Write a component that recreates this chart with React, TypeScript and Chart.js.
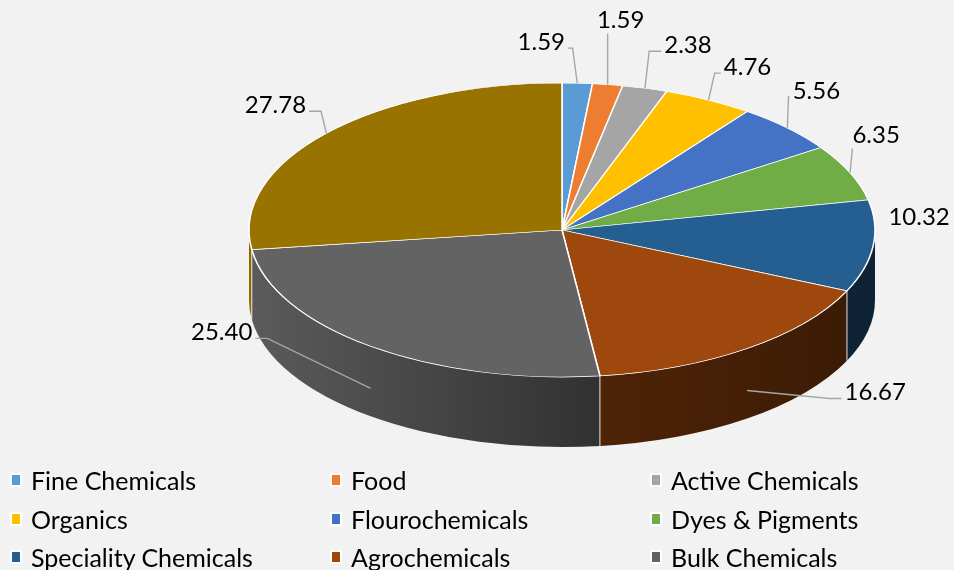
import React, { useEffect, useRef } from 'react';
import { Chart, registerables } from 'chart.js';

Chart.register(...registerables);

// ---- data ----
const categories = [
  'Fine Chemicals',
  'Food',
  'Active Chemicals',
  'Organics',
  'Flourochemicals',
  'Dyes & Pigments',
  'Speciality Chemicals',
  'Agrochemicals',
  'Bulk Chemicals',
  'Others',
];
const values = [1.59, 1.59, 2.38, 4.76, 5.56, 6.35, 10.32, 16.67, 25.4, 27.78];
const valueLabels = ['1.59', '1.59', '2.38', '4.76', '5.56', '6.35', '10.32', '16.67', '25.40', '27.78'];

// ---- styles ----
const sliceColors = [
  '#5B9BD5', '#ED7D31', '#A5A5A5', '#FFC000', '#4472C4',
  '#70AD47', '#255E91', '#9E480E', '#636363', '#997300',
];
// label offset from its anchor point on the slice edge (px)
const labelOffsets: [number, number][] = [
  [-36, -41], [13, -64], [43, -43], [39, -33], [29, -37],
  [26, -37], [46, -29], [128, 2], [-149, -56], [-51, -28],
];

const W = 954;
const H = 570;
const CX = 562;
const CY = 230;
const BASE_R = 200;
const RX = 313;
const RY = 147;
const DEPTH = 70;
const FONT = 'Lato, "Open Sans", "DejaVu Sans", sans-serif';

function shade(hex: string, f: number) {
  const n = parseInt(hex.slice(1), 16);
  const r = Math.round(((n >> 16) & 255) * f);
  const g = Math.round(((n >> 8) & 255) * f);
  const b = Math.round((n & 255) * f);
  return `rgb(${r},${g},${b})`;
}

const pie3d = {
  id: 'pie3d',
  beforeDatasetsDraw(chart: any) {
    const meta = chart.getDatasetMeta(0);
    const arcs = meta.data as any[];
    if (!arcs.length) return;
    const ctx: CanvasRenderingContext2D = chart.ctx;
    const cx = arcs[0].x;
    const cy = arcs[0].y;
    const r = arcs[0].outerRadius;
    // side walls (front half only)
    arcs.forEach((arc, i) => {
      const s = Math.max(arc.startAngle, 0);
      const e = Math.min(arc.endAngle, Math.PI);
      if (e <= s) return;
      const col = sliceColors[i];
      const g = ctx.createLinearGradient(cx - RX, 0, cx + RX, 0);
      g.addColorStop(0, shade(col, 0.92));
      g.addColorStop(0.55, shade(col, 0.5));
      g.addColorStop(1, shade(col, 0.36));
      ctx.beginPath();
      ctx.ellipse(cx, cy, RX, RY, 0, s, e, false);
      ctx.lineTo(cx + RX * Math.cos(e), cy + RY * Math.sin(e) + DEPTH);
      ctx.ellipse(cx, cy + DEPTH, RX, RY, 0, e, s, true);
      ctx.closePath();
      ctx.fillStyle = g;
      ctx.fill();
    });
    ctx.strokeStyle = 'rgba(255,255,255,0.85)';
    ctx.lineWidth = 1;
    arcs.forEach((arc) => {
      const a = arc.startAngle;
      if (a > 0 && a < Math.PI) {
        const x = cx + RX * Math.cos(a);
        const y = cy + RY * Math.sin(a);
        ctx.beginPath();
        ctx.moveTo(x, y);
        ctx.lineTo(x, y + DEPTH);
        ctx.stroke();
      }
    });
    ctx.save();
    ctx.translate(cx, cy);
    ctx.scale(RX / r, RY / r);
    ctx.translate(-cx, -cy);
  },
  afterDatasetsDraw(chart: any) {
    const ctx: CanvasRenderingContext2D = chart.ctx;
    ctx.restore();
    const arcs = chart.getDatasetMeta(0).data as any[];
    if (!arcs.length) return;
    const cx = arcs[0].x;
    const cy = arcs[0].y;
    ctx.save();
    ctx.font = `24px ${FONT}`;
    ctx.textAlign = 'center';
    ctx.textBaseline = 'middle';
    arcs.forEach((arc, i) => {
      const mid = (arc.startAngle + arc.endAngle) / 2;
      const c = Math.cos(mid);
      const s = Math.sin(mid);
      const ax = cx + RX * c;
      const ay = cy + RY * s + (s > 0.3 ? DEPTH * 0.6 : 0);
      const lx = ax + labelOffsets[i][0];
      const ly = ay + labelOffsets[i][1];
      const text = valueLabels[i];
      const w = ctx.measureText(text).width;
      const x1 = lx - w / 2;
      const x2 = lx + w / 2;
      const y1 = ly - 11;
      const y2 = ly + 11;
      const dx = ax < x1 ? x1 - ax : ax > x2 ? ax - x2 : 0;
      const dy = ay < y1 ? y1 - ay : ay > y2 ? ay - y2 : 0;
      const dist = Math.hypot(dx, dy);
      if (dist >= 24) {
        ctx.strokeStyle = '#a6a6a6';
        ctx.lineWidth = 1.4;
        ctx.beginPath();
        ctx.moveTo(ax, ay);
        if (ax < x1 - 4) {
          const tx = x1 - 3;
          const ty = ly + 6;
          let ex = tx - 12;
          if (ex < ax + 2) ex = (ax + tx) / 2;
          ctx.lineTo(ex, ty);
          ctx.lineTo(tx, ty);
        } else if (ax > x2 + 4) {
          const tx = x2 + 3;
          const ty = ly + 6;
          let ex = tx + 12;
          if (ex > ax - 2) ex = (ax + tx) / 2;
          ctx.lineTo(ex, ty);
          ctx.lineTo(tx, ty);
        } else {
          const tx = Math.min(Math.max(ax, x1), x2 + 2);
          ctx.lineTo(tx, y2 + 2);
        }
        ctx.stroke();
      }
      ctx.fillStyle = '#000';
      ctx.fillText(text, lx, ly);
    });
    ctx.restore();
  },
};

export default function App() {
  const ref = useRef<HTMLCanvasElement>(null);

  useEffect(() => {
    if (!ref.current) return;
    const chart = new Chart(ref.current, {
      type: 'pie',
      data: {
        labels: categories,
        datasets: [
          {
            data: values,
            backgroundColor: sliceColors,
            borderColor: '#ffffff',
            borderWidth: 1,
          },
        ],
      },
      options: {
        responsive: false,
        animation: false,
        events: [],
        layout: {
          padding: {
            left: CX - BASE_R,
            right: W - CX - BASE_R,
            top: CY - BASE_R,
            bottom: H - CY - BASE_R,
          },
        },
        plugins: {
          legend: { display: false },
          tooltip: { enabled: false },
          title: { display: false },
        },
      },
      plugins: [pie3d as any],
    });
    return () => chart.destroy();
  }, []);

  return (
    <div
      style={{
        position: 'fixed',
        left: 0,
        top: 0,
        width: W,
        height: H,
        overflow: 'hidden',
        background: '#f2f2f2',
      }}
    >
      <canvas ref={ref} width={W} height={H} style={{ position: 'absolute', left: 0, top: 0, width: W, height: H }} />
      {categories.map((c, i) => (
        <div
          key={c}
          style={{
            position: 'absolute',
            left: 10 + (i % 3) * 320,
            top: 481 + Math.floor(i / 3) * 38.5 - 17,
            height: 32,
            display: 'flex',
            alignItems: 'center',
            font: `25px ${FONT}`,
            color: '#000',
            whiteSpace: 'nowrap',
          }}
        >
          <span
            style={{
              display: 'inline-block',
              width: 8,
              height: 10,
              background: sliceColors[i],
              border: '2px solid #fff',
              marginRight: 9,
            }}
          />
          {c}
        </div>
      ))}
    </div>
  );
}
